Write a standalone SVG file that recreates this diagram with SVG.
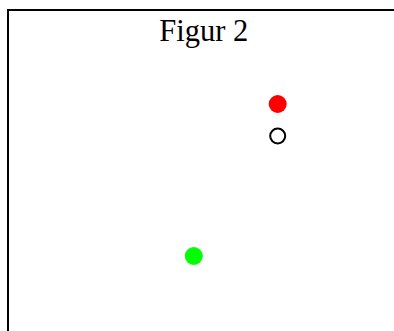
<svg xmlns="http://www.w3.org/2000/svg" width="394" height="331" viewBox="0 0 394 331">
<style>
.frame{fill:none;stroke:#000;stroke-width:2}
.title{font-family:"Liberation Serif",serif;font-size:30.5px;fill:#000}
</style>
<rect width="394" height="331" fill="#fff"/>
<g id="frame"><rect class="frame" x="8" y="10" width="400" height="340"/></g>
<text class="title" x="203.8" y="40.5" text-anchor="middle">Figur 2</text>
<g id="red-point"><circle cx="277.7" cy="104" r="9" fill="#f00"/></g>
<g id="open-point"><circle cx="277.7" cy="136" r="7.5" fill="none" stroke="#000" stroke-width="2"/></g>
<g id="green-point"><circle cx="193.8" cy="256" r="9" fill="#0f0"/></g>
<g id="connectors"></g>
</svg>
